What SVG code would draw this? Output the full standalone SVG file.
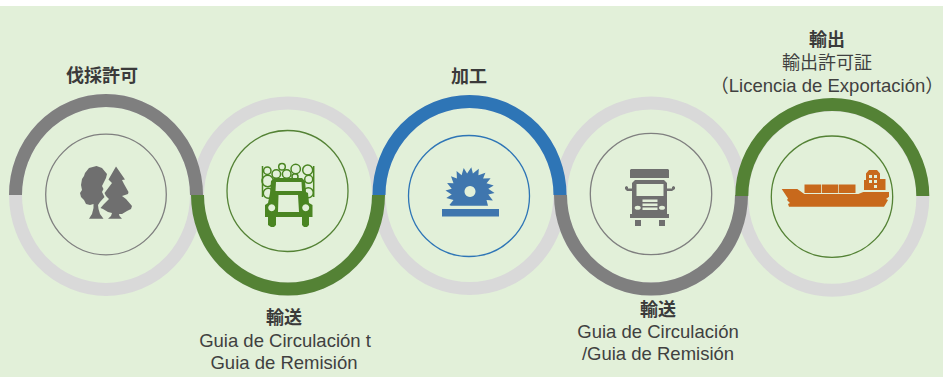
<svg xmlns="http://www.w3.org/2000/svg" width="943" height="377" viewBox="0 0 943 377">
<style>
.ring{fill:none;stroke:#D9D9D9;stroke-width:13}
.arc{fill:none;stroke-width:13}
.in{fill:none;stroke-width:1.3}
text{font-family:"Liberation Sans","Noto Sans CJK JP",sans-serif;text-anchor:middle;fill:#404040;font-size:18.500px}
.h{font-weight:700;fill:#3a3a3a;font-size:18px}
.j{font-size:18px}
</style>
<rect x="0" y="6" width="943" height="371" fill="#E2F0D9"/>
<g id="rings">
<ellipse class="ring" cx="106" cy="195" rx="90.500" ry="94.500"/>
<ellipse class="ring" cx="288" cy="196" rx="90.500" ry="93"/>
<ellipse class="ring" cx="469.500" cy="195" rx="90.500" ry="93.500"/>
<ellipse class="ring" cx="651" cy="196" rx="90.500" ry="93"/>
<ellipse class="ring" cx="832.300" cy="197.500" rx="90.500" ry="92.700"/>
</g>
<g id="connectors">
<path class="arc" stroke="#7F7F7F" d="M15.500 195A90.500 94.500 0 0 1 196.500 195"/>
<path class="arc" stroke="#548235" d="M197.500 195A90.500 94 0 0 0 378.500 195"/>
<path class="arc" stroke="#2E75B6" d="M379 195A90.500 93.500 0 0 1 560 195"/>
<path class="arc" stroke="#7F7F7F" d="M560.500 195A90.500 94 0 0 0 741.500 195"/>
<path class="arc" stroke="#548235" d="M741.800 196A90.500 91.500 0 0 1 922.800 196"/>
</g>
<g id="node-1">
<circle class="in" cx="106" cy="194.500" r="60.300" stroke="#7F7F7F"/>
<g fill="#6F6F6F">
<path d="M85 173L89 168L96.500 166L102 168L107 174L106 178L102 186L103.500 189L102 192L104.500 197L100 202L98 205L98.500 209L100 214L103.500 218.700H89L92 214L93.500 208L93.500 204L90 205L86 204L84 200L81 197L80 193L82 190L81 185L82 179L84 176Z"/>
<path d="M116 166.500L125 179.500L122 180L124 184L128.500 192L128 194L122 196L126 199L132 206L131 209L127 211L122 214L119 214L119.500 216L122 218.700H108L111 216L112 213L108 212L103 209L100.500 208L104 204L109 199L106 196L104.500 193L109 187L112 183L108.500 179.500Z"/>
</g>
</g>
<g id="node-2">
<circle class="in" cx="287.500" cy="191" r="60.500" stroke="#548235"/>
<g fill="none" stroke="#4A8522" stroke-width="1.500">
<path d="M262.500 166V197M313.700 166V197"/>
<circle cx="267.300" cy="170.700" r="3.700"/><circle cx="276.300" cy="174" r="4.300"/><circle cx="282" cy="166.700" r="3.300"/><circle cx="286.700" cy="174" r="4.300"/><circle cx="295.700" cy="169" r="4.700"/><circle cx="307.700" cy="170" r="5"/><circle cx="308.700" cy="179.300" r="4"/><circle cx="267.700" cy="181" r="5.700"/><circle cx="268.300" cy="193.300" r="5"/><circle cx="308.300" cy="192.700" r="5"/><circle cx="295" cy="176.700" r="3"/>
</g>
<path fill="#4A8522" fill-rule="evenodd" d="M274 178H302L305 181L306 192L308 193L309 203L312.500 205V217H309V225L307 227H304L302 225V217H276V225L274 227H271L268 225V217H265V205L268 203L270 193L271 181ZM276 182L275.500 191H302L301.500 182ZM278.500 195L278 212H299L298 195ZM271.700 204.200a3.500 3.500 0 1 0 .01 0ZM305.700 204.200a3.500 3.500 0 1 0 .01 0Z"/>
</g>
<g id="node-3">
<circle class="in" cx="469" cy="196" r="60.500" stroke="#2E75B6"/>
<path fill="#3F76AE" fill-rule="evenodd" d="M451 205.700L449.400 205L453.500 200.100L446.300 198L451.700 194.600L445.500 190.400L451.700 188.800L447.100 182.900L453.500 183.300L451 176.300L456.900 178.600L456.600 171.100L461.600 175.200L463.700 168L467.100 173.400L471.300 167.200L472.900 173.400L478.800 168.800L478.400 175.200L485.400 172.700L483.100 178.600L490.600 178.300L486.500 183.300L493.700 185.400L488.300 188.800L494.500 193L488.300 194.600L492.900 200.500L486.500 200.100L488 205.700ZM470 186a5.500 5.500 0 1 0 .01 0Z"/>
<rect x="442" y="209" width="57" height="7.500" fill="#3F76AE"/>
</g>
<g id="node-4">
<circle class="in" cx="651" cy="194" r="60.700" stroke="#7F7F7F"/>
<g fill="#6F6F6F">
<path d="M631 169H668L669 170V178H630V170Z"/>
<path d="M635 180H664L667 183V215H632V183Z"/>
<path d="M632 191H627L625 189V187L626.500 186L628 187V188.500H632ZM667 191H672L675 189V187L673.500 186L672 187V188.500H667Z"/>
<rect x="630" y="214" width="39" height="4"/>
<rect x="635" y="220" width="6" height="6"/>
<rect x="659" y="220" width="6" height="6"/>
</g>
<g fill="#E2F0D9">
<rect x="636.500" y="184" width="27" height="12"/>
<rect x="642.500" y="199.500" width="15" height="2.500"/>
<rect x="642.500" y="203.500" width="15" height="2.500"/>
<rect x="642.500" y="207.500" width="15" height="2.500"/>
<ellipse cx="637.700" cy="207.700" rx="3" ry="2"/>
<ellipse cx="662" cy="207.700" rx="3" ry="2"/>
</g>
</g>
<g id="node-5">
<circle class="in" cx="832" cy="196.700" r="60.700" stroke="#548235"/>
<g fill="#C8691C">
<path d="M781.700 189H797.300L804.300 194H858.300L863.300 192H889V196.700L886 199L888 200L885.700 204L884 206.700H789L788 204L790 203L787 200L788 198.500Z"/>
<rect x="804.500" y="184.500" width="16.500" height="8.500"/><rect x="821.800" y="184.500" width="16.500" height="8.500"/><rect x="839" y="184.500" width="16.500" height="8.500"/>
<path fill-rule="evenodd" d="M866 173.500L869 170H877L880 173.500V179H885.500V190H864V180H866ZM869 175V178H872V175ZM874 175V178H877V175ZM869 180V183H872V180ZM874 180V183H877V180ZM874 185V188H877V185Z"/>
</g>
</g>
<g id="labels">
<text class="h" x="102" y="82">伐採許可</text>
<text class="h" x="284" y="324">輸送</text>
<text x="285" y="347">Guia de Circulación t</text>
<text x="284" y="369">Guia de Remisión</text>
<text class="h" x="469" y="83">加工</text>
<text class="h" x="658" y="315.500">輸送</text>
<text x="658" y="337.500">Guia de Circulación</text>
<text x="658" y="360">/Guia de Remisión</text>
<text class="h" x="827" y="46">輸出</text>
<text class="j" x="827" y="69">輸出許可証</text>
<text x="827" y="92">（Licencia de Exportación）</text>
</g>
</svg>
